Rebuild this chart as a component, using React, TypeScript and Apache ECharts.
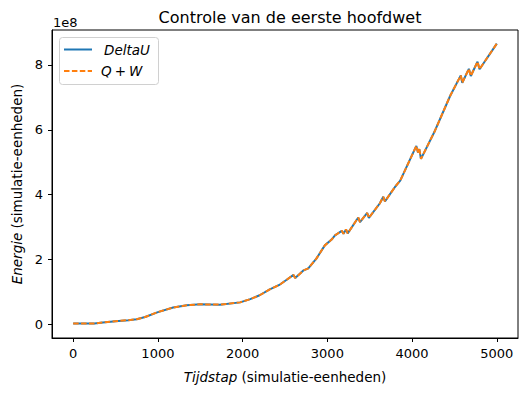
import React, { useEffect, useRef } from "react";
import * as echarts from "echarts";

// Time steps (simulation units)
const steps = [0, 250, 350, 500, 650, 750, 850, 1000, 1180, 1340, 1500, 1730, 1970, 2090, 2200, 2320, 2440, 2520, 2600, 2620, 2720, 2775, 2870, 2970, 3050, 3090, 3170, 3190, 3220, 3240, 3365, 3385, 3470, 3490, 3620, 3660, 3680, 3800, 3860, 4050, 4070, 4085, 4105, 4270, 4450, 4575, 4592, 4670, 4693, 4772, 4796, 5000];
// DeltaU (x 1e8)
const deltaU = [0.02, 0.02, 0.05, 0.09, 0.12, 0.15, 0.22, 0.37, 0.51, 0.58, 0.61, 0.60, 0.67, 0.77, 0.89, 1.07, 1.22, 1.37, 1.52, 1.42, 1.66, 1.72, 2.02, 2.43, 2.61, 2.74, 2.88, 2.79, 2.92, 2.80, 3.29, 3.15, 3.43, 3.28, 3.73, 3.93, 3.79, 4.24, 4.43, 5.50, 5.30, 5.40, 5.10, 5.97, 7.05, 7.68, 7.45, 7.88, 7.66, 8.10, 7.87, 8.66];
// Q + W (x 1e8)
const qPlusW = [0.02, 0.02, 0.05, 0.09, 0.12, 0.15, 0.22, 0.37, 0.51, 0.58, 0.61, 0.60, 0.67, 0.77, 0.89, 1.07, 1.22, 1.37, 1.52, 1.42, 1.66, 1.72, 2.02, 2.43, 2.61, 2.74, 2.88, 2.79, 2.92, 2.80, 3.29, 3.15, 3.43, 3.28, 3.73, 3.93, 3.79, 4.24, 4.43, 5.50, 5.30, 5.40, 5.10, 5.97, 7.05, 7.68, 7.45, 7.88, 7.66, 8.10, 7.87, 8.66];

const xTicks = [0, 1000, 2000, 3000, 4000, 5000];
const yTicks = [0, 2, 4, 6, 8];

const FONT = "DejaVu Sans";

export default function App() {
  const ref = useRef<HTMLDivElement>(null);
  useEffect(() => {
    if (!ref.current) return;
    const chart = echarts.init(ref.current, null, { renderer: "svg" });
    const tickStyle = { color: "#000", fontSize: 13, fontFamily: FONT };
    const nameStyle = {
      color: "#000",
      fontSize: 13.5,
      fontFamily: FONT,
      rich: { i: { fontStyle: "italic", fontSize: 13.5, fontFamily: FONT, color: "#000" } },
    };
    chart.setOption({
      animation: false,
      backgroundColor: "#fff",
      title: {
        text: "Controle van de eerste hoofdwet",
        left: 285,
        top: 4,
        textAlign: "center",
        textStyle: { fontSize: 16, fontWeight: "normal", color: "#000", fontFamily: FONT },
      },
      grid: {
        left: 52,
        right: 9,
        top: 30,
        bottom: 57,
        show: true,
        borderColor: "#000",
        borderWidth: 1,
        backgroundColor: "transparent",
      },
      xAxis: {
        type: "value",
        min: -250,
        max: 5250,
        splitLine: { show: false },
        axisLine: { show: true, onZero: false, lineStyle: { color: "#000", width: 1 } },
        axisTick: { show: true, length: 4, customValues: xTicks, lineStyle: { color: "#000" } },
        axisLabel: { ...tickStyle, margin: 9, customValues: xTicks, formatter: (v: number) => String(v) },
        name: "{i|Tijdstap} (simulatie-eenheden)",
        nameLocation: "middle",
        nameGap: 32,
        nameTextStyle: nameStyle,
      },
      yAxis: {
        type: "value",
        min: -0.43,
        max: 9.08,
        splitLine: { show: false },
        axisLine: { show: true, onZero: false, lineStyle: { color: "#000", width: 1 } },
        axisTick: { show: true, length: 4, customValues: yTicks, lineStyle: { color: "#000" } },
        axisLabel: { ...tickStyle, margin: 9, customValues: yTicks, formatter: (v: number) => String(v) },
        name: "{i|Energie} (simulatie-eenheden)",
        nameLocation: "middle",
        nameGap: 28,
        nameTextStyle: nameStyle,
      },
      series: [
        {
          name: "DeltaU",
          type: "line",
          data: steps.map((s, i) => [s, deltaU[i]]),
          showSymbol: false,
          lineStyle: { color: "#1f77b4", width: 2 },
          z: 2,
        },
        {
          name: "Q + W",
          type: "line",
          data: steps.map((s, i) => [s, qPlusW[i]]),
          showSymbol: false,
          lineStyle: { color: "#ff7f0e", width: 2, type: [5.5, 2.4] },
          z: 3,
        },
      ],
      graphic: [
        {
          type: "text",
          left: 53,
          top: 16,
          style: { text: "1e8", fill: "#000", fontSize: 13, fontFamily: FONT },
        },
        {
          type: "rect",
          shape: { x: 59.5, y: 37.5, width: 99, height: 47, r: 3 },
          style: { fill: "rgba(255,255,255,0.8)", stroke: "#d0d0d0", lineWidth: 1 },
          z: 10,
        },
        {
          type: "line",
          shape: { x1: 64, y1: 49.5, x2: 92, y2: 49.5 },
          style: { stroke: "#1f77b4", lineWidth: 2 },
          z: 11,
        },
        {
          type: "line",
          shape: { x1: 64, y1: 71, x2: 92, y2: 71 },
          style: { stroke: "#ff7f0e", lineWidth: 2, lineDash: [5.5, 2.4] },
          z: 11,
        },
        {
          type: "text",
          x: 104,
          y: 49.5,
          style: {
            text: "DeltaU",
            fill: "#000",
            fontSize: 13.5,
            fontStyle: "italic",
            fontFamily: FONT,
            verticalAlign: "middle",
          },
          z: 11,
        },
        {
          type: "text",
          x: 101,
          y: 71,
          style: {
            text: "{i|Q}{p|+}{i|W}",
            fill: "#000",
            fontSize: 13.5,
            fontFamily: FONT,
            verticalAlign: "middle",
            rich: {
              i: { fontStyle: "italic", fontSize: 13.5, fontFamily: FONT, fill: "#000" },
              p: { fontSize: 13.5, fontFamily: FONT, fill: "#000", padding: [0, 3, 0, 3] },
            },
          },
          z: 11,
        },
      ],
    });
    return () => chart.dispose();
  }, []);
  return <div ref={ref} style={{ width: 527, height: 395, position: "absolute", left: 0, top: 0 }} />;
}
